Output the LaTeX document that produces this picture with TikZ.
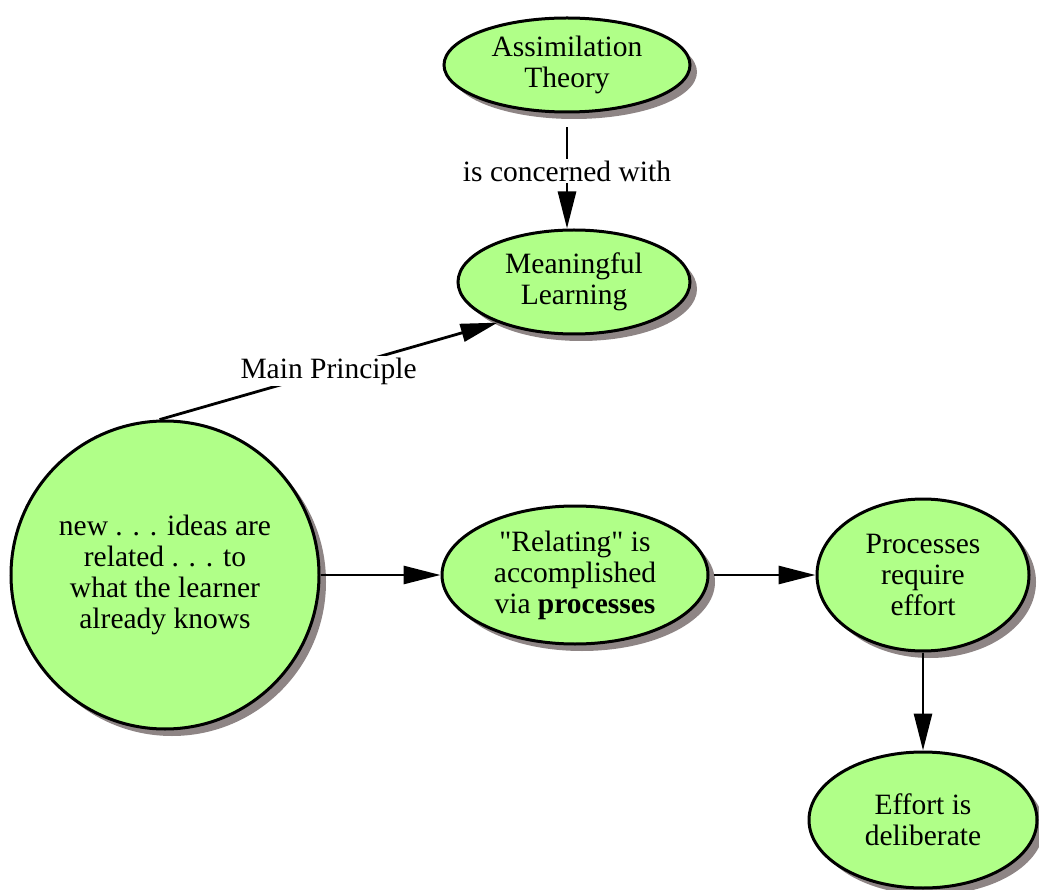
\documentclass[tikz,border=0pt]{standalone}
\usepackage{fontspec}
\setmainfont{Liberation Serif}
\usetikzlibrary{shapes.geometric,shadows,arrows.meta}
\definecolor{conceptgreen}{RGB}{176,255,136}
\definecolor{shadowgray}{RGB}{142,133,133}
\begin{document}
\begin{tikzpicture}[x=1pt,y=1pt,
    every node/.style={font=\fontsize{29.5}{31}\selectfont, align=center, inner sep=0pt},
    concept/.style={ellipse, draw, line width=3pt, fill=conceptgreen,
        drop shadow={shadow xshift=7pt, shadow yshift=-7pt, fill=shadowgray, opacity=1}},
    link/.style={line width=2.8pt, -{Triangle[length=37pt,width=18pt]}},
    linklabel/.style={fill=white, inner sep=2pt}]
\useasboundingbox (0,0) rectangle (1039,-890);
\node[concept, minimum width=246pt, minimum height=94pt] (assim) at (567,-65) {Assimilation\\Theory};
\node[concept, minimum width=232pt, minimum height=104pt] (meaning) at (574,-282) {Meaningful\\Learning};
\node[concept, circle, minimum size=308pt] (ideas) at (165,-575) {new . . . ideas are\\related . . . to\\what the learner\\already knows};
\node[concept, minimum width=266pt, minimum height=138pt] (relating) at (575,-575) {\textquotedbl Relating\textquotedbl{} is\\accomplished\\via \textbf{processes}};
\node[concept, minimum width=212pt, minimum height=152pt] (proc) at (923,-575) {Processes\\require\\effort};
\node[concept, minimum width=228pt, minimum height=136pt] (effort) at (923,-820) {Effort is\\deliberate};
% links
\draw[link, shorten <=14pt] (assim.south) -- node[linklabel] (concerned) {is concerned with} (assim.south |- meaning.north);
\draw[link] (ideas.92) -- node[linklabel] (principle) {Main Principle} (meaning.208);
\draw[link] (ideas) -- (relating);
\draw[link, shorten <=4pt] (relating) -- (proc);
\draw[link] (proc) -- (effort);
\end{tikzpicture}
\end{document}
